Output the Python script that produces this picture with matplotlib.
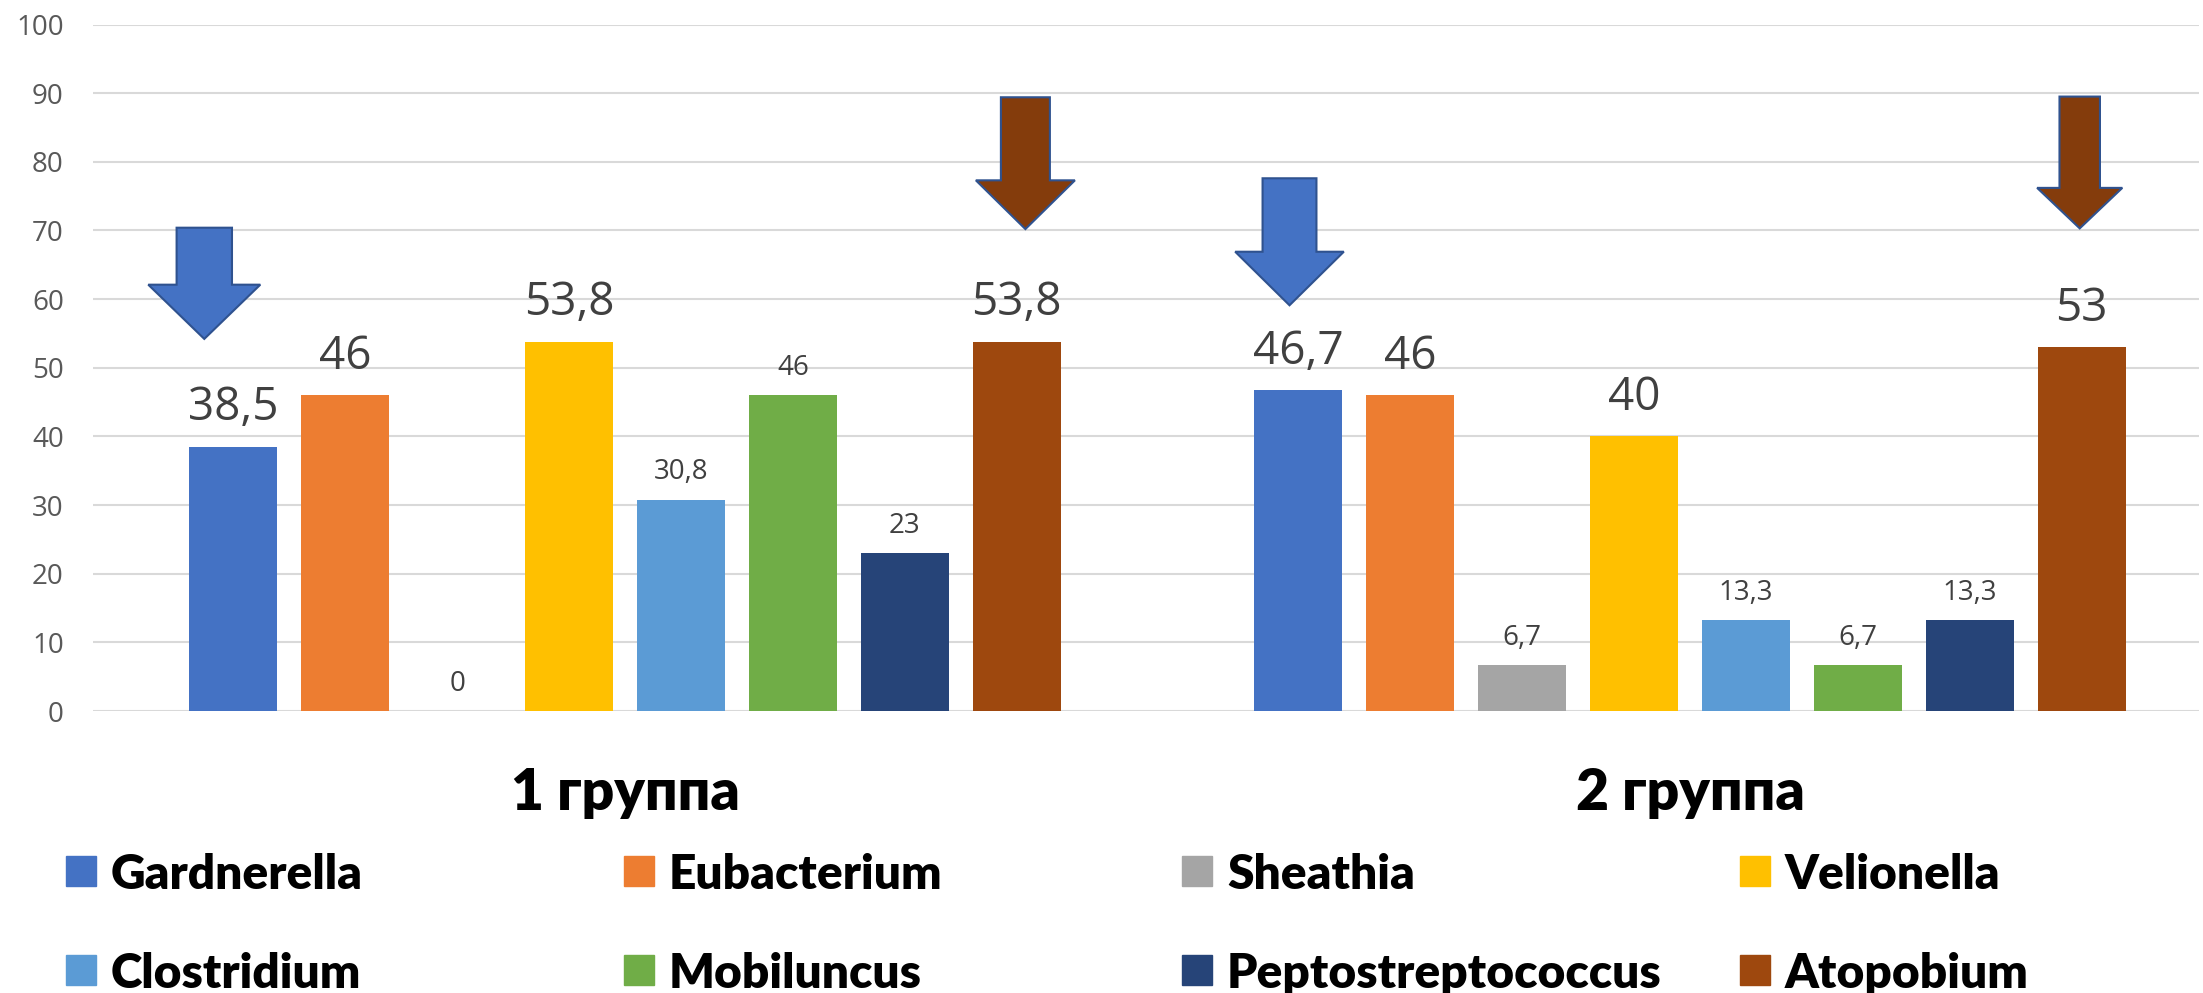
import matplotlib
matplotlib.use('Agg')
import matplotlib.pyplot as plt
from matplotlib.patches import Polygon, Rectangle
import numpy as np

# data
groups = ['1 группа', '2 группа']
species = ['Gardnerella', 'Eubacterium', 'Sheathia', 'Velionella',
           'Clostridium', 'Mobiluncus', 'Peptostreptococcus', 'Atopobium']
group1 = [38.5, 46, 0, 53.8, 30.8, 46, 23, 53.8]
group2 = [46.7, 46, 6.7, 40, 13.3, 6.7, 13.3, 53]
big1 = [True, True, False, True, False, False, False, True]
big2 = [True, True, False, True, False, False, False, True]
colors = ['#4472C4', '#ED7D31', '#A5A5A5', '#FFC000',
          '#5B9BD5', '#70AD47', '#264478', '#9E480E']

# block arrows (data coords): tip x, top, neck, tip y, half widths
arrow_x = [-0.395, 0.376, 0.624, 1.366]
arrow_top = [70.4, 89.4, 77.6, 89.5]
arrow_neck = [62.1, 77.3, 66.9, 76.2]
arrow_tip = [54.2, 70.2, 59.1, 70.3]
arrow_shaft = [0.026, 0.023, 0.0253, 0.019]
arrow_head = [0.0526, 0.0465, 0.051, 0.040]
arrow_color = ['#4472C4', '#843C0C', '#4472C4', '#843C0C']

num_font = ['Open Sans', 'DejaVu Sans']
bold_font = ['Lato', 'DejaVu Sans']

W, H = 2203, 993
fig = plt.figure(figsize=(W / 100, H / 100), dpi=100)
ax = fig.add_axes([93 / W, 1 - 711 / H, (2199 - 93) / W, (711 - 24.5) / H])

x = np.arange(len(groups))
pitch = 0.1051
width = 0.0826
for i, name in enumerate(species):
    vals = [group1[i], group2[i]]
    pos = x + (i - 3.5) * pitch
    ax.bar(pos, vals, width, color=colors[i], zorder=2)
    for p, v, big in zip(pos, vals, [big1[i], big2[i]]):
        lab = f"{v:g}".replace('.', ',')
        ax.annotate(lab, (p, v), xytext=(0, 19 if big else 14.5),
                    textcoords='offset points', ha='center', va='baseline',
                    fontsize=33 if big else 20, color='#404040',
                    family=num_font, zorder=3)

for k in range(len(arrow_x)):
    cx, sw, hw = arrow_x[k], arrow_shaft[k], arrow_head[k]
    pts = [(cx - sw, arrow_top[k]), (cx + sw, arrow_top[k]),
           (cx + sw, arrow_neck[k]), (cx + hw, arrow_neck[k]),
           (cx, arrow_tip[k]), (cx - hw, arrow_neck[k]),
           (cx - sw, arrow_neck[k])]
    ax.add_patch(Polygon(pts, closed=True, facecolor=arrow_color[k],
                         edgecolor='#2F528F', lw=1.5, zorder=4, clip_on=False))

ax.set_xlim(-0.4995, 1.478)
ax.set_ylim(0, 100)
ax.set_yticks(range(0, 101, 10))
ax.yaxis.grid(True, color='#D9D9D9', lw=1.5)
ax.set_axisbelow(True)
for s in ax.spines.values():
    s.set_visible(False)
ax.tick_params(axis='y', length=0, pad=21, labelsize=20, labelcolor='#595959')
for t in ax.get_yticklabels():
    t.set_family(num_font)
ax.set_xticks(x)
ax.set_xticklabels(groups, fontsize=41, fontweight='heavy', family=bold_font)
ax.tick_params(axis='x', length=0, pad=40)

# legend, laid out like the Excel one (equal column starts)
for k, name in enumerate(species):
    col, row = k % 4, k // 4
    sx = (66 + col * 558) / W
    sy = 1 - (871 + row * 99) / H
    fig.add_artist(Rectangle((sx, sy - 15 / H), 30 / W, 30 / H,
                             transform=fig.transFigure, color=colors[k]))
    fig.text(sx + 45 / W, sy, name, fontsize=34.5, fontweight='heavy',
             family=bold_font, va='center_baseline', ha='left')

fig.savefig('out.png', dpi=100)
